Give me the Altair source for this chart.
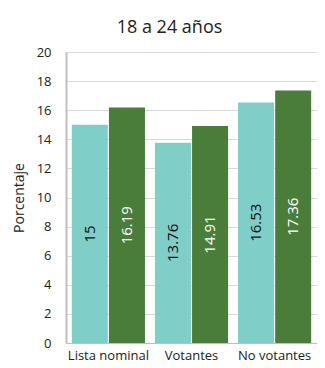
import altair as alt
import pandas as pd

categories = ["Lista nominal", "Votantes", "No votantes"]
series = ["Serie 1", "Serie 2"]
values_s1 = [15, 13.76, 16.53]
values_s2 = [16.19, 14.91, 17.36]
labels_s1 = ["15", "13.76", "16.53"]
labels_s2 = ["16.19", "14.91", "17.36"]
y_ticks = list(range(0, 21, 2))

rows = []
for c, v, l in zip(categories, values_s1, labels_s1):
    rows.append({"cat": c, "serie": series[0], "value": v, "label": l})
for c, v, l in zip(categories, values_s2, labels_s2):
    rows.append({"cat": c, "serie": series[1], "value": v, "label": l})
df = pd.DataFrame(rows)

FONT = "Open Sans"

y_axis = alt.Axis(title="Porcentaje", values=y_ticks, ticks=False,
                  labelFontSize=13, labelColor="#222222", labelFont=FONT,
                  titleFont=FONT, titleFontSize=14, titleFontWeight="normal",
                  titleColor="#222222", titlePadding=10, labelPadding=15,
                  labelOverlap=False,
                  gridColor="#d9d9d9", domainColor="#bfbfbf", domainWidth=2)
y_scale = alt.Scale(domain=[0, 20], nice=False)

x_enc = alt.X("cat:N", sort=categories,
              scale=alt.Scale(paddingInner=0.12, paddingOuter=0.07),
              axis=alt.Axis(title=None, labelAngle=0, ticks=False, labelFontSize=13,
                            labelColor="#222222", labelFont=FONT, labelPadding=6,
                            domainColor="#bfbfbf", grid=False))
off_enc = alt.XOffset("serie:N", sort=series, scale=alt.Scale(paddingInner=0.03))

bars = alt.Chart(df).mark_bar().encode(
    x=x_enc, xOffset=off_enc,
    y=alt.Y("value:Q", scale=y_scale, axis=y_axis),
    color=alt.Color("serie:N", sort=series,
                    scale=alt.Scale(domain=series, range=["#80cec8", "#4a7c3a"]),
                    legend=None),
)

text = alt.Chart(df).transform_calculate(mid="datum.value / 2").mark_text(
    angle=270, align="center", baseline="middle", fontSize=15, font=FONT
).encode(
    x=x_enc, xOffset=off_enc,
    y=alt.Y("mid:Q", scale=y_scale, axis=y_axis),
    text="label:N",
    color=alt.Color("serie:N", sort=series,
                    scale=alt.Scale(domain=series, range=["#111111", "#ffffff"]),
                    legend=None),
)

chart = alt.layer(bars, text).resolve_scale(color="independent").properties(
    width=251, height=291,
    autosize=alt.AutoSizeParams(type="none"),
    padding={"left": 58, "top": 44, "right": 0, "bottom": 25},
    title=alt.TitleParams("18 a 24 años", font=FONT, fontSize=18, fontWeight="normal",
                          color="#222222", offset=9, dx=-22),
).configure_view(stroke=None)

chart.save("out.html", embed_options={"renderer": "svg", "actions": False})
